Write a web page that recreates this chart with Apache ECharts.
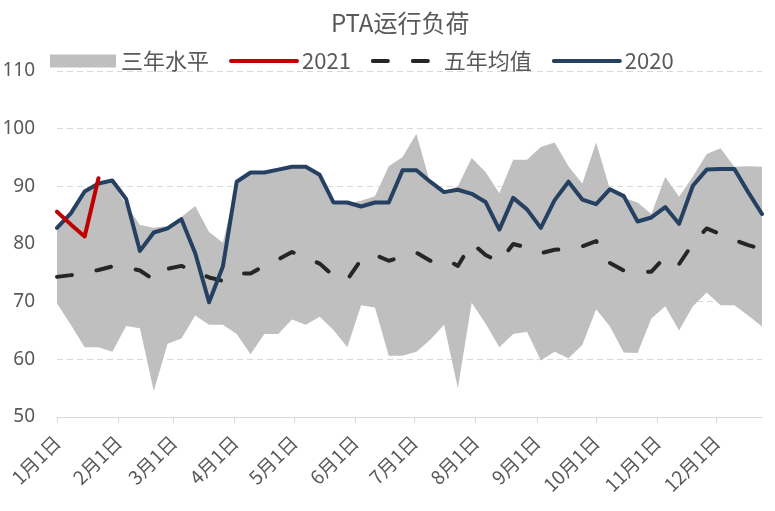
<!DOCTYPE html>
<html>
<head>
<meta charset="utf-8">
<script src="https://cdn.jsdelivr.net/npm/echarts@6/dist/echarts.min.js"></script>
<style>
html,body{margin:0;padding:0;background:#fff;}
#chart{width:775px;height:511px;}
</style>
</head>
<body>
<div id="chart"></div>
<script>
// Weekly dates (x positions)
const weekDates = [
  '2021-01-01','2021-01-08','2021-01-15','2021-01-22','2021-01-29',
  '2021-02-05','2021-02-12','2021-02-19','2021-02-26',
  '2021-03-05','2021-03-12','2021-03-19','2021-03-26',
  '2021-04-02','2021-04-09','2021-04-16','2021-04-23','2021-04-30',
  '2021-05-07','2021-05-14','2021-05-21','2021-05-28',
  '2021-06-04','2021-06-11','2021-06-18','2021-06-25',
  '2021-07-02','2021-07-09','2021-07-16','2021-07-23','2021-07-30',
  '2021-08-06','2021-08-13','2021-08-20','2021-08-27',
  '2021-09-03','2021-09-10','2021-09-17','2021-09-24',
  '2021-10-01','2021-10-08','2021-10-15','2021-10-22','2021-10-29',
  '2021-11-05','2021-11-12','2021-11-19','2021-11-26',
  '2021-12-03','2021-12-10','2021-12-17','2021-12-24'
];
// Month-start tick labels
const monthTicks = ['2021-01-01','2021-02-01','2021-03-01','2021-04-01','2021-05-01','2021-06-01',
  '2021-07-01','2021-08-01','2021-09-01','2021-10-01','2021-11-01','2021-12-01'];

// 三年水平 band: lower and upper bounds
const bandLow = [69.7,66.0,62.1,62.1,61.3,65.8,65.4,54.5,62.7,63.6,67.6,66.0,66.0,64.4,60.9,64.4,64.4,66.9,66.0,67.4,
  65.1,62.1,69.4,69.0,60.6,60.6,61.3,63.4,66.0,55.0,69.8,66.2,62.1,64.4,64.8,59.8,61.3,60.2,62.5,68.7,
  65.7,61.2,61.1,67.1,69.2,65.0,69.2,71.6,69.4,69.4,67.6,65.7];
const bandHigh = [82.6,85.0,88.8,90.2,90.6,86.8,83.3,82.8,83.1,84.7,86.6,82.1,80.2,90.5,92.2,92.2,92.7,93.2,93.2,91.8,
  87.0,87.0,87.5,88.3,93.5,95.1,99.1,90.5,89.0,90.0,94.9,92.5,88.8,94.6,94.6,96.8,97.6,93.5,90.5,97.6,
  89.5,88.0,87.2,85.2,91.6,88.2,91.7,95.6,96.6,93.4,93.5,93.4];
// 2021
const y2021 = [85.6,83.4,81.3,91.4];
// 五年均值
const avg5 = [74.3,74.6,75.0,75.5,76.1,76.0,75.4,73.8,75.7,76.2,75.2,74.2,73.6,74.9,74.9,76.2,77.3,78.6,77.6,76.6,
  74.5,73.8,77.3,78.1,77.1,77.8,78.5,77.1,77.5,76.2,80.2,78.1,76.9,80.0,79.4,78.4,79.0,79.1,79.6,80.5,
  76.7,75.4,75.2,75.2,77.8,76.5,80.1,82.7,81.7,80.7,79.8,79.1];
// 2020
const y2020 = [82.8,85.3,89.1,90.5,91.0,87.8,78.8,82.0,82.7,84.3,78.4,69.9,76.1,90.8,92.4,92.4,92.9,93.4,93.4,92.0,
  87.2,87.2,86.5,87.2,87.2,92.8,92.8,90.8,89.0,89.4,88.7,87.3,82.5,88.0,86.0,82.8,87.6,90.8,87.7,86.9,
  89.5,88.3,83.9,84.6,86.4,83.5,90.1,92.9,93.0,93.0,89.0,85.2];
const yTicks = [50, 60, 70, 80, 90, 100, 110];

function toTs(s){ const p = s.split('-').map(Number); return new Date(p[0], p[1]-1, p[2]).getTime(); }
const weekTs = weekDates.map(toTs);
const monthTickValues = monthTicks.map(toTs);
const pair = arr => arr.map((v, i) => [weekTs[i], v]);

const txt = '#595959';
const BAND = '#bfbfbf', RED = '#c00000', DARK = '#262626', BLUE = '#254061';
const DASH = [15, 25];

const chart = echarts.init(document.getElementById('chart'), null, {renderer: 'canvas'});
chart.setOption({
  animation: false,
  backgroundColor: '#fff',
  title: {
    text: 'PTA运行负荷', left: 326, top: 6,
    textStyle: {fontSize: 24, fontWeight: 'normal', color: txt, fontFamily: 'Noto Sans CJK SC'}
  },
  legend: {
    left: 45, top: 45, itemWidth: 66, itemHeight: 13, itemGap: 20,
    textStyle: {fontSize: 22, color: txt, fontFamily: 'Noto Sans CJK SC'},
    data: [
      {name: '三年水平', icon: 'rect', itemStyle: {color: BAND, borderWidth: 0}},
      {name: '2021', itemStyle: {opacity: 0}, lineStyle: {width: 4, color: RED, cap: 'round'}},
      {name: '五年均值', itemStyle: {opacity: 0}, lineStyle: {width: 4, color: DARK, type: DASH, cap: 'round'}},
      {name: '2020', itemStyle: {opacity: 0}, lineStyle: {width: 4, color: BLUE, cap: 'round'}}
    ]
  },
  grid: {left: 57, right: 13, top: 71, bottom: 94, outerBoundsMode: 'none', containLabel: false},
  xAxis: {
    type: 'value',
    min: weekTs[0], max: weekTs[weekTs.length - 1],
    axisLine: {show: true, lineStyle: {color: '#d9d9d9', width: 1}},
    axisTick: {show: true, customValues: monthTickValues, length: 6, lineStyle: {color: '#d9d9d9'}},
    minorTick: {show: false},
    splitLine: {show: false},
    axisLabel: {
      customValues: monthTickValues,
      rotate: 45, margin: 22, fontSize: 19, color: txt, fontFamily: 'Noto Sans CJK SC',
      formatter: v => { const d = new Date(v); return (d.getMonth() + 1) + '月' + d.getDate() + '日'; }
    }
  },
  yAxis: {
    type: 'value', min: yTicks[0], max: yTicks[yTicks.length - 1], interval: 10,
    axisLine: {show: false}, axisTick: {show: false},
    axisLabel: {fontSize: 19, color: txt, margin: 22, fontFamily: 'Noto Sans'},
    splitLine: {show: true, lineStyle: {color: '#d9d9d9', type: [6, 4], width: 1}}
  },
  series: [
    {
      name: '三年水平', type: 'custom', z: 1, silent: true,
      itemStyle: {color: BAND},
      encode: {x: 0, y: [1, 2]},
      data: weekTs.map((t, i) => [t, bandLow[i], bandHigh[i]]),
      renderItem: (params, api) => {
        if (params.dataIndex !== 0) return null;
        const pts = [];
        for (let i = 0; i < weekTs.length; i++) pts.push(api.coord([weekTs[i], bandHigh[i]]));
        for (let i = weekTs.length - 1; i >= 0; i--) pts.push(api.coord([weekTs[i], bandLow[i]]));
        return {type: 'polygon', shape: {points: pts}, style: {fill: BAND}};
      }
    },
    {
      name: '2021', type: 'line', symbol: 'none', color: RED, z: 4,
      lineStyle: {width: 4, color: RED, cap: 'round', join: 'round'},
      data: pair(y2021)
    },
    {
      name: '五年均值', type: 'line', symbol: 'none', color: DARK, z: 3,
      lineStyle: {width: 4, color: DARK, type: DASH, cap: 'round', join: 'round'},
      data: pair(avg5)
    },
    {
      name: '2020', type: 'line', symbol: 'none', color: BLUE, z: 3,
      lineStyle: {width: 4, color: BLUE, cap: 'round', join: 'round'},
      data: pair(y2020)
    }
  ]
});
</script>
</body>
</html>
